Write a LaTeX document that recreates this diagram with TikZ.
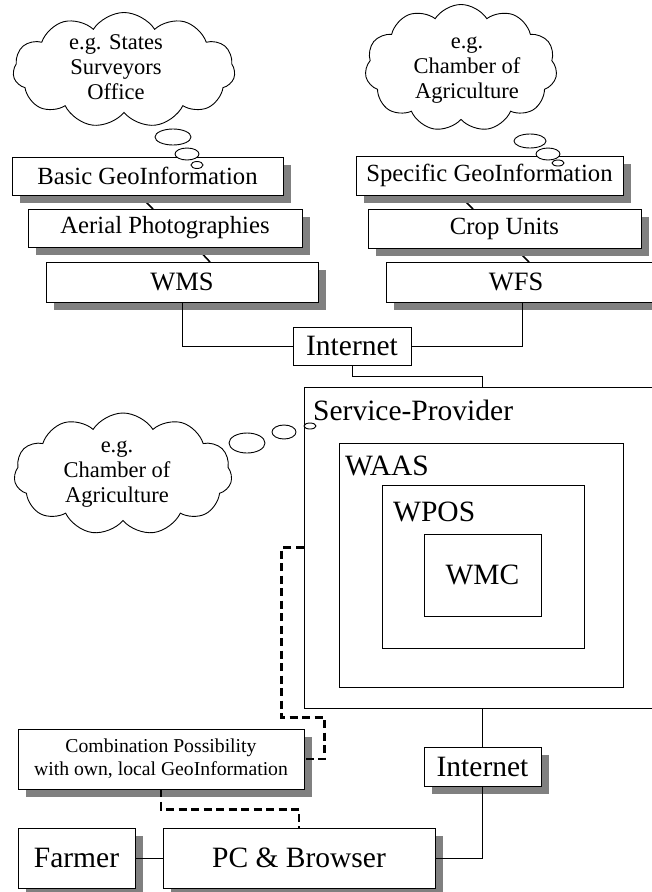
\documentclass[tikz,border=0pt]{standalone}
\usepackage{fontspec}
\setmainfont{Liberation Serif}
\usetikzlibrary{shapes.symbols,shadows,calc}

\tikzset{
  box/.style={draw=black, line width=0.9pt, fill=white, rectangle, inner sep=0pt},
  shadowbox/.style={box, drop shadow={shadow xshift=8pt, shadow yshift=-8pt,
      fill=shadowgray, opacity=1}},
  link/.style={draw=black, line width=0.9pt},
  dashlink/.style={draw=black, line width=2.6pt, dash pattern=on 8pt off 4.5pt},
  thought/.style={cloud, draw=black, line width=0.9pt, fill=white, cloud puffs=11,
      cloud puff arc=115, inner sep=0pt},
  bubble/.style={draw=black, line width=0.9pt, fill=white},
  fsmall/.style={font=\fontsize{19.7}{23}\selectfont},
  fcloud/.style={font=\fontsize{22.5}{25}\selectfont, align=center},
  fmid/.style={font=\fontsize{24.7}{28}\selectfont},
  fws/.style={font=\fontsize{26.5}{30}\selectfont},
  fbig/.style={font=\fontsize{29.5}{33}\selectfont},
}
\definecolor{shadowgray}{RGB}{128,128,128}

\begin{document}
\begin{tikzpicture}[x=1pt, y=-1pt]
\useasboundingbox (0,0) rectangle (652,892);
\clip (0,0) rectangle (652,892);
\fill[white] (0,0) rectangle (652,892);

% thought clouds
\node[thought, minimum width=222pt, minimum height=115pt] (cloudA) at (124,70) {};
\node[fcloud] (cloudAtext) at (116,67) {e.g. States\\Surveyors\\Office};
\node[thought, minimum width=192pt, minimum height=127pt] (cloudB) at (461,68) {};
\node[fcloud] (cloudBtext) at (467,70) {e.g.\\Chamber of\\Agriculture};
\node[thought, minimum width=218pt, minimum height=122pt] (cloudC) at (123,474) {};
\node[fcloud] (cloudCtext) at (117,474) {e.g.\\Chamber of\\Agriculture};

% short links between the stacked layers (drawn first, boxes cover them)
\coordinate (basicS) at (139,195);
\coordinate (aerialN) at (153,209);
\coordinate (aerialS) at (196,247);
\coordinate (wmsN) at (210,262);
\coordinate (specS) at (459,195);
\coordinate (cropN) at (473,209);
\coordinate (cropS) at (515,248);
\coordinate (wfsN) at (529,262);
\draw[link, line width=1.6pt] (basicS) -- (aerialN);
\draw[link, line width=1.6pt] (aerialS) -- (wmsN);
\draw[link, line width=1.6pt] (specS) -- (cropN);
\draw[link, line width=1.6pt] (cropS) -- (wfsN);

% data providers
\node[shadowbox, fmid, minimum width=271pt, minimum height=38pt] (basic) at (147.5,176) {Basic GeoInformation};
\node[shadowbox, fmid, minimum width=274pt, minimum height=38pt] (aerial) at (165,228) {Aerial Photographies};
\node[shadowbox, fws, minimum width=272pt, minimum height=40pt] (wms) at (182,282) {WMS};
\node[shadowbox, fmid, minimum width=267pt, minimum height=39pt] (spec) at (489.5,175.5) {Specific GeoInformation};
\node[shadowbox, fmid, minimum width=273pt, minimum height=39pt] (crop) at (504.5,228.5) {Crop Units};
\node[shadowbox, minimum width=300pt, minimum height=40pt] (wfs) at (536,282) {};
\node[fws] (wfstext) at (516,282) {WFS};

% internet (upper)
\node[box, fbig, minimum width=118pt, minimum height=38pt] (net1) at (352,346) {Internet};
\draw[link] (wms.south) |- (net1.west);
\draw[link] ([xshift=-14pt]wfs.south) |- (net1.east);

% service provider with nested services
\node[box, minimum width=396pt, minimum height=321pt] (sp) at (502,547.5) {};
\node[fbig, anchor=base west, inner sep=0pt] (sptext) at (313,420) {Service-Provider};
\node[box, minimum width=284pt, minimum height=244pt] (waas) at (481,565) {};
\node[fbig, anchor=base west, inner sep=0pt] (waastext) at (345,475) {WAAS};
\node[box, minimum width=202pt, minimum height=163pt] (wpos) at (483,566.5) {};
\node[fbig, anchor=base west, inner sep=0pt] (wpostext) at (393,521) {WPOS};
\node[box, fbig, minimum width=117pt, minimum height=82pt] (wmc) at (482.5,575) {WMC};
\draw[link] (net1.south) -- ++(0,11) -| (wmc.center |- sp.north);

% client side
\node[shadowbox, fsmall, align=center, minimum width=286pt, minimum height=60pt] (comb) at (161,759) {Combination Possibility\\with own, local GeoInformation};
\node[shadowbox, fbig, minimum width=117pt, minimum height=39pt] (net2) at (482.5,766.5) {Internet};
\node[shadowbox, fbig, minimum width=117pt, minimum height=60pt] (farmer) at (76.5,858) {Farmer};
\node[shadowbox, fbig, minimum width=272pt, minimum height=60pt] (pc) at (299,858) {PC \& Browser};

\draw[link] (wmc.center |- sp.south) -- (net2.north);
\draw[link] (net2.south) |- (pc.east);
\draw[link] (farmer.east) -- (pc.west);
\draw[dashlink] (sp.west) -- ++(-22,0) -- ++(0,170) -- ++(43,0) |- (comb.east);
\draw[dashlink] (comb.south) -- ++(0,20) -| (pc.north);

% thought bubbles
\draw[bubble] (173,137) ellipse [x radius=18, y radius=8];
\draw[bubble] (187,154) ellipse [x radius=12, y radius=6];
\draw[bubble] (197,165) ellipse [x radius=6, y radius=3.5];
\draw[bubble] (530,141) ellipse [x radius=16, y radius=7];
\draw[bubble] (548,154) ellipse [x radius=12, y radius=6];
\draw[bubble] (558,163) ellipse [x radius=6, y radius=3];
\draw[bubble] (247,443) ellipse [x radius=18, y radius=10];
\draw[bubble] (284,432) ellipse [x radius=12, y radius=7];
\draw[bubble] (310,426) ellipse [x radius=6, y radius=3];
\end{tikzpicture}
\end{document}
